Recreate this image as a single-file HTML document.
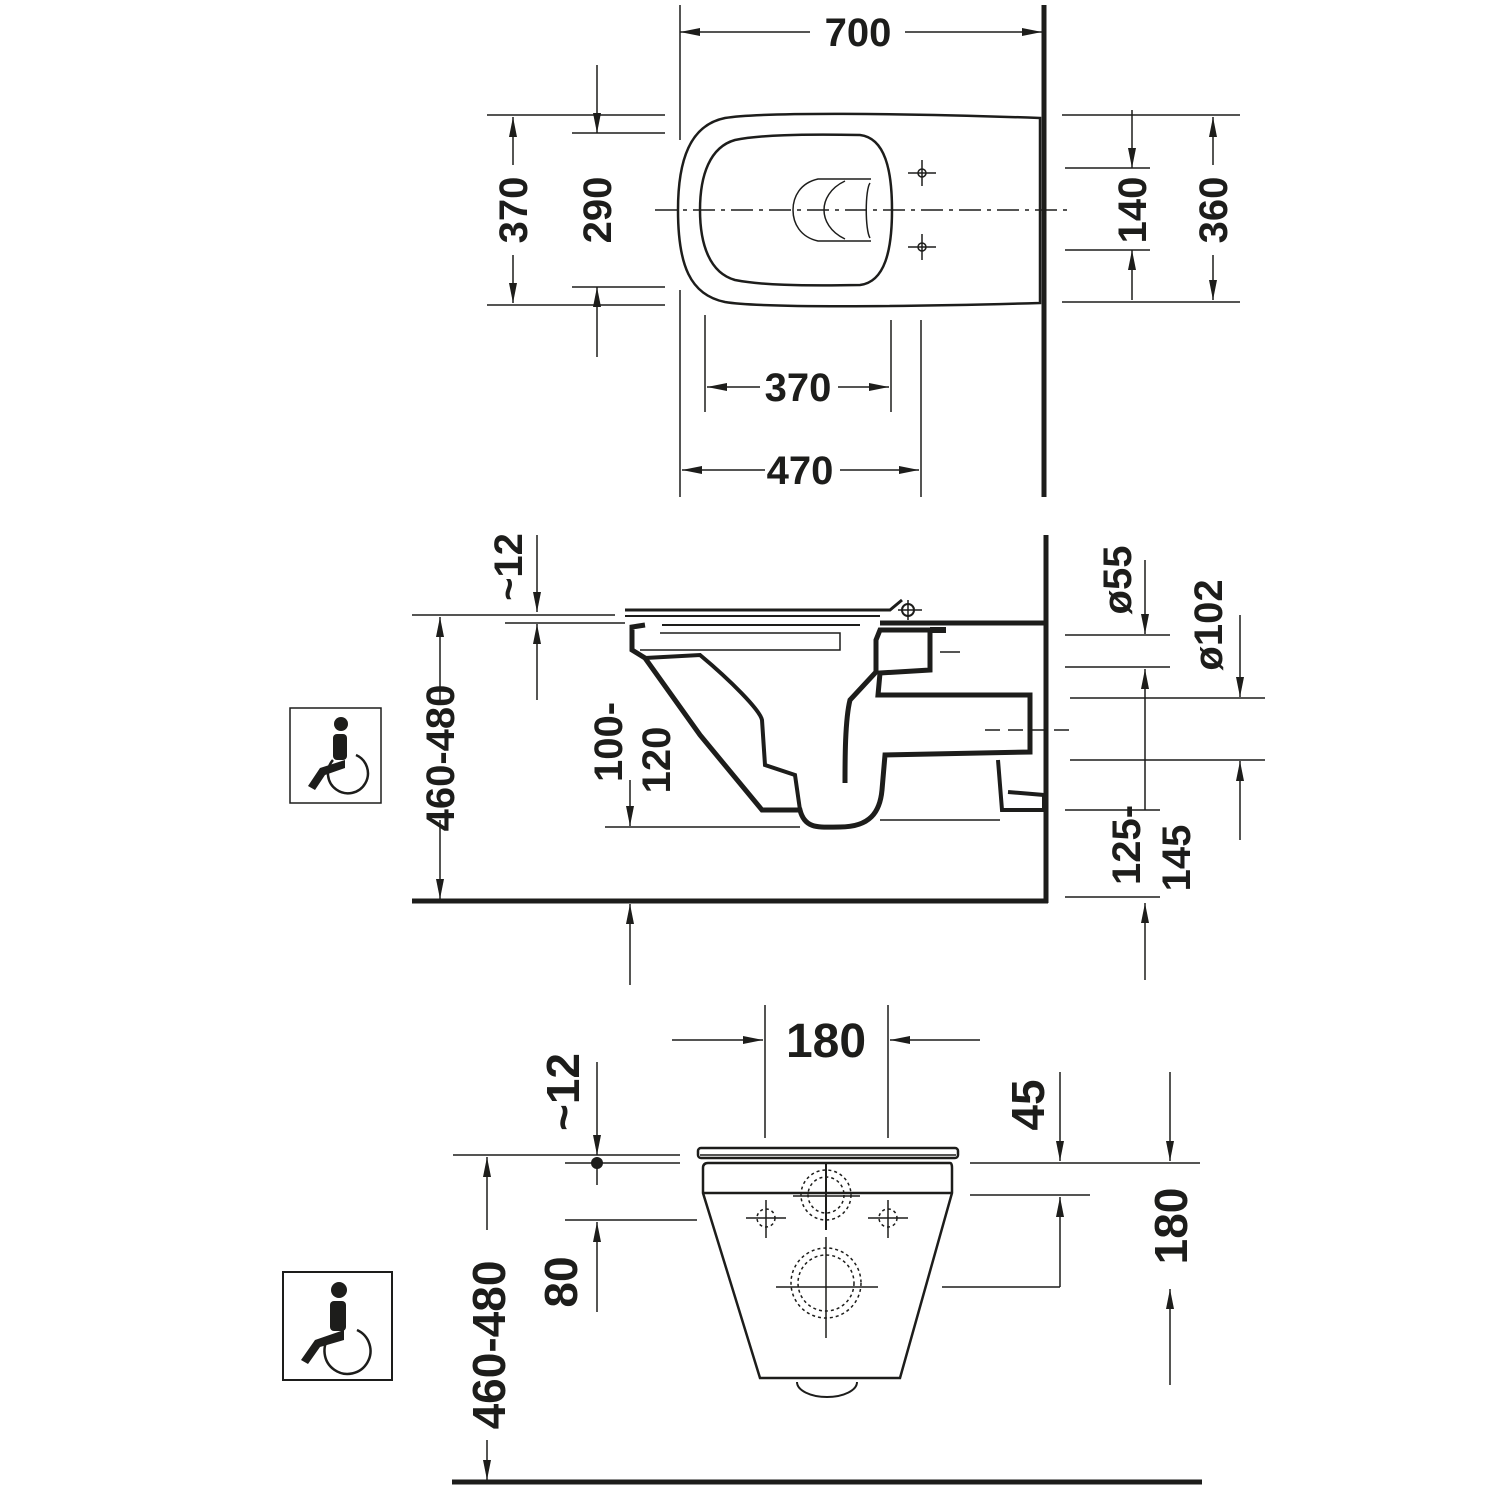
<!DOCTYPE html>
<html><head><meta charset="utf-8"><style>
html,body{margin:0;padding:0;background:#fff}
svg{display:block}
text{font-family:"Liberation Sans",sans-serif;font-weight:bold;font-size:40px;fill:#1d1d1b}
</style></head><body>
<svg width="1500" height="1500" viewBox="0 0 1500 1500" xmlns="http://www.w3.org/2000/svg">
<defs>
<marker id="a" viewBox="0 0 20 8" refX="20" refY="4" markerWidth="20" markerHeight="8" markerUnits="userSpaceOnUse" orient="auto"><path d="M0,0 L20,4 L0,8 z" fill="#1d1d1b"/></marker>
</defs>
<g stroke="#1d1d1b" fill="none" stroke-width="1.5">
<!-- TOP VIEW -->
<line x1="1044" y1="5" x2="1044" y2="497" stroke-width="5"/>
<line x1="680" y1="5" x2="680" y2="140"/>
<line x1="680" y1="290" x2="680" y2="497"/>
<line x1="810" y1="32" x2="680" y2="32" marker-end="url(#a)"/>
<line x1="905" y1="32" x2="1042" y2="32" marker-end="url(#a)"/>
<path d="M1040,118 C900,113 760,112 725,118 C690,125 678,160 678,210 C678,265 690,295 725,302 C760,308 900,307 1040,303 Z" stroke-width="2.5"/>
<path d="M860,135 C800,134 760,135 735,140 C710,147 700,175 700,210 C700,245 710,273 735,280 C760,285 800,286 860,285 C885,282 892,250 892,210 C892,170 885,138 860,135 Z" stroke-width="2.5"/>
<line x1="655" y1="210" x2="1070" y2="210" stroke-dasharray="22,6,4,6"/>
<path d="M871,179 L818,179 C800,183 793,197 793,210 C793,223 800,237 818,241 L871,241"/>
<path d="M845,181 C830,188 824,200 824,210 C824,220 830,232 845,239"/>
<path d="M870,183 C865,190 865,230 870,238"/>
<circle cx="922" cy="173" r="4"/><line x1="908" y1="173" x2="936" y2="173"/><line x1="922" y1="160" x2="922" y2="186"/>
<circle cx="922" cy="247" r="4"/><line x1="908" y1="247" x2="936" y2="247"/><line x1="922" y1="234" x2="922" y2="260"/>
<line x1="487" y1="115" x2="665" y2="115"/><line x1="487" y1="305" x2="665" y2="305"/>
<line x1="513" y1="165" x2="513" y2="117" marker-end="url(#a)"/>
<line x1="513" y1="255" x2="513" y2="303" marker-end="url(#a)"/>
<line x1="572" y1="133" x2="665" y2="133"/><line x1="572" y1="287" x2="665" y2="287"/>
<line x1="597" y1="65" x2="597" y2="133" marker-end="url(#a)"/>
<line x1="597" y1="357" x2="597" y2="287" marker-end="url(#a)"/>
<line x1="1065" y1="168" x2="1150" y2="168"/><line x1="1065" y1="250" x2="1150" y2="250"/>
<line x1="1132" y1="110" x2="1132" y2="168" marker-end="url(#a)"/>
<line x1="1132" y1="300" x2="1132" y2="250" marker-end="url(#a)"/>
<line x1="1062" y1="115" x2="1240" y2="115"/><line x1="1062" y1="302" x2="1240" y2="302"/>
<line x1="1213" y1="165" x2="1213" y2="117" marker-end="url(#a)"/>
<line x1="1213" y1="255" x2="1213" y2="300" marker-end="url(#a)"/>
<line x1="705" y1="315" x2="705" y2="412"/><line x1="891" y1="320" x2="891" y2="412"/>
<line x1="760" y1="387" x2="707" y2="387" marker-end="url(#a)"/>
<line x1="838" y1="387" x2="889" y2="387" marker-end="url(#a)"/>
<line x1="921" y1="320" x2="921" y2="497"/>
<line x1="765" y1="470" x2="682" y2="470" marker-end="url(#a)"/>
<line x1="840" y1="470" x2="919" y2="470" marker-end="url(#a)"/>

<!-- SIDE VIEW -->
<line x1="1046" y1="535" x2="1046" y2="903" stroke-width="5"/>
<line x1="412" y1="901" x2="1048" y2="901" stroke-width="5"/>
<rect x="290" y="708" width="91" height="95"/>
<line x1="412" y1="615" x2="615" y2="615"/>
<line x1="440" y1="700" x2="440" y2="617" marker-end="url(#a)"/>
<line x1="440" y1="820" x2="440" y2="899" marker-end="url(#a)"/>
<line x1="505" y1="623" x2="625" y2="623"/>
<line x1="537" y1="535" x2="537" y2="612" marker-end="url(#a)"/>
<line x1="537" y1="700" x2="537" y2="624" marker-end="url(#a)"/>
<line x1="605" y1="827" x2="800" y2="827"/>
<line x1="630" y1="780" x2="630" y2="826" marker-end="url(#a)"/>
<line x1="630" y1="985" x2="630" y2="904" marker-end="url(#a)"/>
<path d="M625,610 L890,610 L902,600" stroke-width="3"/>
<path d="M625,616 L880,616" stroke-width="2"/>
<line x1="662" y1="625" x2="860" y2="625" stroke-width="2"/>
<circle cx="908" cy="610" r="6" stroke-width="2"/><line x1="898" y1="610" x2="922" y2="610"/><line x1="908" y1="600" x2="908" y2="620"/>
<path d="M880,623 L1046,623 M645,625 L632,627 L632,650 L645,658 L700,735 L762,810 L800,810 C805,830 820,827 840,827 C870,827 880,812 882,790 L885,755 L1030,752 L1030,695 L878,695 L880,673 L930,670 L930,630 L880,630 L876,640 L876,672 L850,700 C845,720 845,760 845,783" stroke-width="5"/>
<path d="M645,658 L700,655 C730,680 760,710 762,720 L765,765 L795,775 L800,810" stroke-width="4"/>
<path d="M640,650 L840,650 L840,633 L660,633" stroke-width="1.5"/>
<path d="M998,760 L1002,810 L1044,810 L1044,795 L1008,792" stroke-width="4"/>
<line x1="930" y1="630" x2="946" y2="630" stroke-width="6"/>
<line x1="940" y1="652" x2="960" y2="652"/>
<line x1="985" y1="730" x2="1070" y2="730" stroke-dasharray="15,8"/>
<line x1="880" y1="820" x2="1000" y2="820"/>
<line x1="1065" y1="635" x2="1170" y2="635"/><line x1="1065" y1="667" x2="1170" y2="667"/>
<line x1="1145" y1="560" x2="1145" y2="634" marker-end="url(#a)"/>
<line x1="1145" y1="810" x2="1145" y2="669" marker-end="url(#a)"/>
<line x1="1070" y1="698" x2="1265" y2="698"/><line x1="1070" y1="760" x2="1265" y2="760"/>
<line x1="1240" y1="615" x2="1240" y2="697" marker-end="url(#a)"/>
<line x1="1240" y1="840" x2="1240" y2="761" marker-end="url(#a)"/>
<line x1="1065" y1="810" x2="1160" y2="810"/><line x1="1065" y1="897" x2="1160" y2="897"/>
<line x1="1145" y1="980" x2="1145" y2="903" marker-end="url(#a)"/>

<!-- FRONT VIEW -->
<line x1="452" y1="1482" x2="1202" y2="1482" stroke-width="5"/>
<rect x="283" y="1272" width="109" height="108" stroke-width="2"/>
<line x1="453" y1="1155" x2="680" y2="1155"/>
<line x1="487" y1="1230" x2="487" y2="1157" marker-end="url(#a)"/>
<line x1="487" y1="1440" x2="487" y2="1480" marker-end="url(#a)"/>
<line x1="565" y1="1163" x2="680" y2="1163"/>
<line x1="597" y1="1062" x2="597" y2="1155" marker-end="url(#a)"/>
<line x1="597" y1="1165" x2="597" y2="1185"/>
<line x1="565" y1="1220" x2="697" y2="1220"/>
<line x1="597" y1="1312" x2="597" y2="1222" marker-end="url(#a)"/>
<line x1="765" y1="1005" x2="765" y2="1138"/><line x1="888" y1="1005" x2="888" y2="1138"/>
<line x1="672" y1="1040" x2="763" y2="1040" marker-end="url(#a)"/>
<line x1="980" y1="1040" x2="890" y2="1040" marker-end="url(#a)"/>
<rect x="698" y="1148" width="260" height="10" rx="3" stroke-width="2.5"/>
<line x1="700" y1="1155" x2="956" y2="1155"/>
<path d="M708,1163 L950,1163 Q952,1163 952,1168 L952,1193 L900,1378 L760,1378 L703,1193 L703,1168 Q703,1163 708,1163 Z" stroke-width="2.5"/>
<line x1="703" y1="1193" x2="952" y2="1193" stroke-width="2.5"/>
<path d="M797,1382 A30,15 0 0 0 857,1382" stroke-width="2"/>
<g stroke-dasharray="3,3"><circle cx="826" cy="1195" r="25"/><circle cx="826" cy="1195" r="18"/><circle cx="826" cy="1283" r="35"/><circle cx="826" cy="1283" r="28"/><circle cx="766" cy="1218" r="9"/><circle cx="888" cy="1218" r="9"/></g>
<line x1="826" y1="1163" x2="826" y2="1230" stroke-width="2"/><line x1="793" y1="1196" x2="860" y2="1196"/>
<line x1="776" y1="1287" x2="878" y2="1287"/><line x1="826" y1="1237" x2="826" y2="1338"/>
<line x1="746" y1="1218" x2="786" y2="1218"/><line x1="766" y1="1200" x2="766" y2="1238"/>
<line x1="868" y1="1218" x2="908" y2="1218"/><line x1="888" y1="1200" x2="888" y2="1238"/>
<line x1="970" y1="1163" x2="1200" y2="1163"/><line x1="970" y1="1195" x2="1090" y2="1195"/><line x1="942" y1="1287" x2="1060" y2="1287"/>
<line x1="1060" y1="1072" x2="1060" y2="1161" marker-end="url(#a)"/>
<line x1="1060" y1="1287" x2="1060" y2="1197" marker-end="url(#a)"/>
<line x1="1170" y1="1072" x2="1170" y2="1161" marker-end="url(#a)"/>
<line x1="1170" y1="1385" x2="1170" y2="1289" marker-end="url(#a)"/>
</g>
<circle cx="597" cy="1163" r="6" fill="#1d1d1b"/>
<g fill="#1d1d1b">
<circle cx="341" cy="724" r="7"/><rect x="333" y="734" width="14" height="26" rx="4"/>
<path d="M320,768 L345,760 L345,768 L325,775 L315,790 L308,786 Z"/>
<circle cx="339" cy="1290" r="8"/><rect x="330" y="1301" width="16" height="30" rx="4"/>
<path d="M315,1340 L344,1330 L344,1340 L320,1347 L308,1364 L301,1360 Z"/>
</g>
<g fill="none" stroke="#1d1d1b" stroke-width="2.5">
<path d="M333,760 A20,20 0 1 0 356,755"/>
<path d="M330,1336 A23,23 0 1 0 357,1330"/>
</g>
<text x="858" y="46" text-anchor="middle">700</text>
<text x="798" y="401" text-anchor="middle">370</text>
<text x="800" y="484" text-anchor="middle">470</text>
<text transform="translate(527,210) rotate(-90)" text-anchor="middle">370</text>
<text transform="translate(611,210) rotate(-90)" text-anchor="middle">290</text>
<text transform="translate(1146,210) rotate(-90)" text-anchor="middle">140</text>
<text transform="translate(1227,210) rotate(-90)" text-anchor="middle">360</text>
<text transform="translate(454,758) rotate(-90)" text-anchor="middle">460-480</text>
<text transform="translate(522,567) rotate(-90)" text-anchor="middle">~12</text>
<text transform="translate(622,742) rotate(-90)" text-anchor="middle">100-</text>
<text transform="translate(670,760) rotate(-90)" text-anchor="middle">120</text>
<text transform="translate(1131,580) rotate(-90)" text-anchor="middle">ø55</text>
<text transform="translate(1222,625) rotate(-90)" text-anchor="middle">ø102</text>
<text transform="translate(1140,845) rotate(-90)" text-anchor="middle">125-</text>
<text transform="translate(1190,858) rotate(-90)" text-anchor="middle">145</text>
<text x="826" y="1057" text-anchor="middle" style="font-size:48px">180</text>
<text transform="translate(579,1092) rotate(-90)" text-anchor="middle" style="font-size:46px">~12</text>
<text transform="translate(577,1282) rotate(-90)" text-anchor="middle" style="font-size:46px">80</text>
<text transform="translate(505,1345) rotate(-90)" text-anchor="middle" style="font-size:46px">460-480</text>
<text transform="translate(1044,1105) rotate(-90)" text-anchor="middle" style="font-size:46px">45</text>
<text transform="translate(1187,1226) rotate(-90)" text-anchor="middle" style="font-size:46px">180</text>
</svg>
</body></html>
